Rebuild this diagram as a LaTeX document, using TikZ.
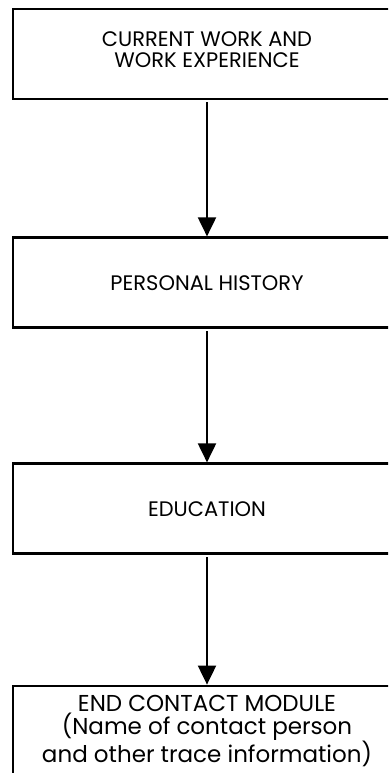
\documentclass[tikz,border=0pt]{standalone}
\usepackage{fontspec}
\setmainfont{Poppins}
\usetikzlibrary{arrows.meta}
\begin{document}
\begin{tikzpicture}[x=1pt,y=-1pt,
    box/.style={draw,line width=2.8pt,minimum width=388pt,minimum height=90pt,
      align=center,font=\fontsize{21}{21}\selectfont},
    link/.style={line width=2pt,shorten <=2pt,-{Triangle[width=18pt,length=19pt]}}]
  \useasboundingbox (0,0) rectangle (388,773);
  \clip (0,0) rectangle (388,773);
  \draw
    (207,54) node[box,text depth=9pt] (0){CURRENT WORK AND\\WORK EXPERIENCE}
    (207,282.8) node[box] (1){PERSONAL HISTORY}
    (207,508.8) node[box] (2){EDUCATION}
    (207,731) node[box,font=\fontsize{23}{23.5}\selectfont] (3){END CONTACT MODULE\\(Name of contact person\\and other trace information)};
  \begin{scope}[link]
    \draw (0) to (1);
    \draw (1) to (2);
    \draw (2) to (3);
  \end{scope}
\end{tikzpicture}
\end{document}
